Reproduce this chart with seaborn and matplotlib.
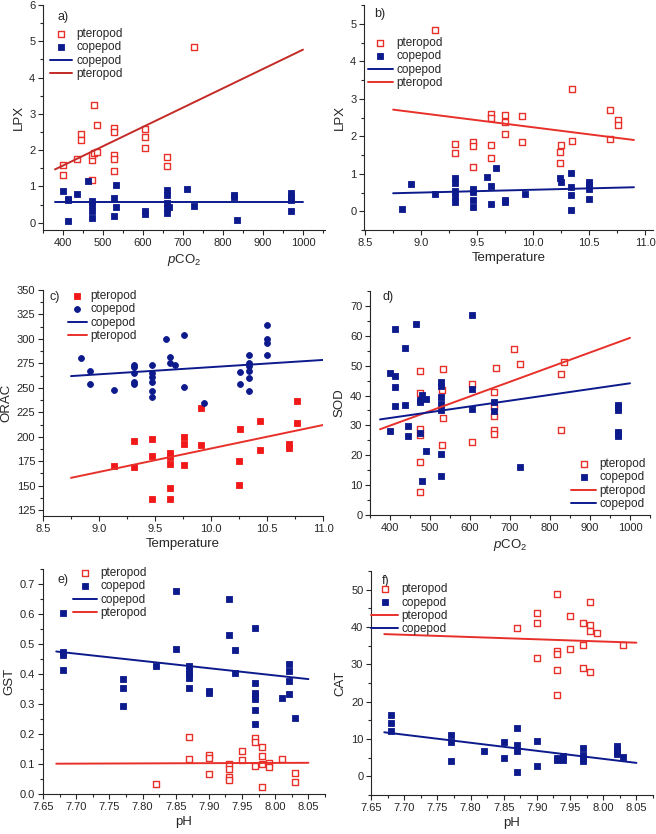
import matplotlib
matplotlib.use("Agg")
import matplotlib.pyplot as plt
from matplotlib.ticker import AutoMinorLocator, MultipleLocator, FormatStrFormatter
import seaborn as sns
import pandas as pd

RED = "#e8302a"
NAVY = "#0d1a8c"

# ---- a) LPX vs pCO2 ----
a_ptero_x = [400, 400, 435, 446, 446, 473, 473, 473, 477, 477, 486, 486, 527, 527, 527, 527, 527,
             606, 606, 606, 660, 660, 727]
a_ptero_y = [1.59, 1.31, 1.76, 2.44, 2.29, 1.19, 1.73, 1.86, 3.25, 1.91, 1.95, 2.70, 2.60, 2.50, 1.86,
             1.76, 1.42, 2.57, 2.37, 2.05, 1.80, 1.55, 4.83]
a_cope_x = [400, 412, 412, 412, 435, 462, 473, 473, 473, 473, 527, 527, 532, 532, 606, 606, 660, 660,
            660, 660, 660, 665, 711, 727, 827, 827, 835, 971, 971, 971, 971]
a_cope_y = [0.88, 0.66, 0.62, 0.05, 0.78, 1.15, 0.59, 0.49, 0.31, 0.12, 0.67, 0.19, 1.04, 0.43, 0.31,
            0.25, 0.90, 0.76, 0.55, 0.42, 0.26, 0.44, 0.92, 0.45, 0.76, 0.70, 0.07, 0.81, 0.72, 0.62, 0.33]
a_fit_x = [380, 1000]
a_fit_ptero = [1.47, 4.77]
a_fit_cope = [0.56, 0.56]

# ---- b) LPX vs Temperature ----
b_ptero_x = [9.12, 9.30, 9.30, 9.46, 9.46, 9.46, 9.62, 9.62, 9.62, 9.62, 9.75, 9.75, 9.75, 9.90, 9.90,
             10.25, 10.24, 10.24, 10.35, 10.35, 10.69, 10.69, 10.76, 10.76]
b_ptero_y = [4.84, 1.79, 1.55, 1.85, 1.75, 1.19, 2.59, 2.50, 1.76, 1.41, 2.56, 2.37, 2.05, 2.54, 1.85,
             1.76, 1.57, 1.30, 3.25, 1.88, 2.69, 1.94, 2.43, 2.29]
b_cope_x = [8.83, 8.91, 9.12, 9.30, 9.30, 9.30, 9.30, 9.30, 9.46, 9.46, 9.46, 9.46, 9.59, 9.62, 9.62,
            9.67, 9.75, 9.75, 9.93, 10.24, 10.25, 10.34, 10.34, 10.34, 10.34, 10.50, 10.50, 10.50, 10.50]
b_cope_y = [0.06, 0.73, 0.45, 0.89, 0.75, 0.55, 0.39, 0.25, 0.59, 0.51, 0.30, 0.12, 0.91, 0.68, 0.19,
            1.15, 0.31, 0.25, 0.45, 0.88, 0.78, 1.02, 0.64, 0.43, 0.04, 0.78, 0.69, 0.60, 0.33]
b_fit_x = [8.75, 10.9]
b_fit_ptero = [2.71, 1.90]
b_fit_cope = [0.48, 0.64]

# ---- c) ORAC vs Temperature ----
c_ptero_x = [9.13, 9.31, 9.31, 9.47, 9.47, 9.47, 9.63, 9.63, 9.63, 9.63, 9.63, 9.76, 9.76, 9.76, 9.91,
             9.91, 10.26, 10.25, 10.25, 10.44, 10.44, 10.70, 10.70, 10.77, 10.77]
c_ptero_y = [170, 196, 169.5, 198, 180, 136, 183, 179, 172, 148, 136, 200, 193, 171.5, 229, 192,
             208, 175, 151, 216, 186.5, 193, 189, 237, 214]
c_cope_x = [8.84, 8.92, 8.92, 9.13, 9.31, 9.31, 9.31, 9.31, 9.31, 9.47, 9.47, 9.47, 9.47, 9.47, 9.47,
            9.60, 9.63, 9.63, 9.68, 9.76, 9.76, 9.94, 10.26, 10.26, 10.34, 10.34, 10.34, 10.34, 10.34,
            10.34, 10.50, 10.50, 10.50, 10.50]
c_cope_y = [280, 267, 253.5, 248, 273, 271, 265, 256, 254, 273.5, 265, 261, 256, 247, 241,
            300, 281.5, 275, 273, 304, 251, 235, 266, 254, 284, 275, 272, 267.5, 260, 247,
            314.5, 300, 295.5, 283.5]
c_fit_x = [8.75, 11.0]
c_fit_ptero = [158, 212]
c_fit_cope = [262, 278.5]

# ---- d) SOD vs pCO2 ----
d_ptero_x = [474, 474, 474, 474, 474, 474, 529, 529, 533, 533, 605, 605, 661, 661, 661, 661, 661, 665,
             711, 726, 828, 828, 836]
d_ptero_y = [48.3, 40.8, 28.9, 26.9, 17.8, 7.7, 41.7, 23.6, 48.9, 32.4, 43.8, 24.3, 41.1, 36.0, 33.2,
             28.3, 27.2, 49.3, 55.6, 50.7, 47.1, 28.3, 51.3]
d_cope_x = [400, 400, 412, 412, 412, 412, 437, 437, 446, 446, 464, 474, 474, 474, 479, 479, 489, 489,
            527, 527, 527, 527, 527, 527, 527, 605, 605, 605, 661, 661, 726, 971, 971, 971, 971, 971, 971]
d_cope_y = [28.0, 47.4, 62.2, 46.6, 43.0, 36.4, 56.0, 36.9, 29.7, 26.5, 63.9, 38.6, 37.7, 27.4, 40.2,
            11.3, 38.7, 21.3, 44.4, 43.3, 39.4, 37.1, 35.2, 20.4, 13.2, 66.9, 42.1, 35.4, 37.8, 34.7,
            16.0, 36.9, 36.1, 35.1, 27.8, 27.2, 26.3]
d_fit_x = [375, 1000]
d_fit_ptero = [28.7, 59.3]
d_fit_cope = [32.0, 44.1]

# ---- e) GST vs pH ----
e_ptero_x = [7.82, 7.87, 7.87, 7.90, 7.90, 7.90, 7.93, 7.93, 7.93, 7.93, 7.95, 7.95, 7.97, 7.97, 7.97,
             7.98, 7.98, 7.98, 7.98, 7.99, 7.99, 8.01, 8.03, 8.03]
e_ptero_y = [0.033, 0.191, 0.118, 0.130, 0.119, 0.068, 0.099, 0.085, 0.057, 0.047, 0.145, 0.113, 0.186,
             0.174, 0.093, 0.157, 0.126, 0.101, 0.023, 0.104, 0.090, 0.118, 0.070, 0.041]
e_cope_x = [7.68, 7.68, 7.68, 7.68, 7.77, 7.77, 7.77, 7.82, 7.85, 7.85, 7.87, 7.87, 7.87, 7.87, 7.87,
            7.90, 7.90, 7.93, 7.93, 7.94, 7.94, 7.97, 7.97, 7.97, 7.97, 7.97, 7.97, 7.97, 8.01, 8.02,
            8.02, 8.02, 8.02, 8.03]
e_cope_y = [0.605, 0.472, 0.463, 0.412, 0.383, 0.352, 0.294, 0.426, 0.676, 0.485, 0.427, 0.410, 0.399,
            0.386, 0.353, 0.343, 0.336, 0.651, 0.531, 0.479, 0.402, 0.552, 0.370, 0.338, 0.327, 0.316,
            0.280, 0.233, 0.321, 0.435, 0.410, 0.377, 0.333, 0.252]
e_fit_x = [7.67, 8.05]
e_fit_ptero = [0.101, 0.104]
e_fit_cope = [0.475, 0.383]

# ---- f) CAT vs pH ----
f_ptero_x = [7.87, 7.90, 7.90, 7.90, 7.93, 7.93, 7.93, 7.93, 7.93, 7.95, 7.95, 7.97, 7.97, 7.97, 7.98,
             7.98, 7.98, 7.98, 7.99, 8.03]
f_ptero_y = [39.8, 43.8, 41.2, 31.6, 48.9, 33.5, 32.9, 28.4, 21.7, 42.9, 34.2, 41.1, 35.1, 29.1, 46.8,
             40.5, 38.8, 27.9, 38.3, 35.1]
f_cope_x = [7.68, 7.68, 7.68, 7.77, 7.77, 7.77, 7.82, 7.85, 7.85, 7.87, 7.87, 7.87, 7.87, 7.90, 7.90,
            7.93, 7.93, 7.94, 7.94, 7.97, 7.97, 7.97, 7.97, 8.02, 8.02, 8.02, 8.02, 8.03]
f_cope_y = [16.5, 14.4, 12.1, 11.1, 9.3, 4.1, 6.7, 9.1, 4.9, 12.9, 8.5, 6.9, 1.1, 9.4, 2.7, 5.0, 4.4,
            5.5, 4.3, 7.5, 5.8, 4.9, 4.0, 8.2, 7.3, 6.4, 6.0, 5.1]
f_fit_x = [7.67, 8.05]
f_fit_ptero = [38.1, 35.8]
f_fit_cope = [11.8, 3.6]

sns.set_style("ticks")
plt.rcParams["font.family"] = ["Liberation Sans", "DejaVu Sans"]
plt.rcParams["mathtext.fontset"] = "custom"
plt.rcParams["mathtext.rm"] = "Liberation Sans"
plt.rcParams["mathtext.it"] = "Liberation Sans:italic"
plt.rcParams["xtick.direction"] = "out"
plt.rcParams["ytick.direction"] = "out"

W, H = 656, 834
fig = plt.figure(figsize=(W / 100, H / 100), dpi=100)


def make_ax(l, t, r, b):
    return fig.add_axes([l / W, 1 - b / H, (r - l) / W, (b - t) / H])


def scatter(ax, x, y, color, label, filled=True, marker="s", size=14):
    df = pd.DataFrame({"x": x, "y": y})
    if filled:
        sns.scatterplot(data=df, x="x", y="y", ax=ax, marker=marker, s=size, color=color,
                        edgecolor=color, linewidth=0.6, label=label)
    else:
        sns.scatterplot(data=df, x="x", y="y", ax=ax, marker=marker, s=size, facecolor="white",
                        edgecolor=color, linewidth=1.0, label=label)


def fit(ax, x, y, color, label):
    df = pd.DataFrame({"x": x, "y": y})
    sns.lineplot(data=df, x="x", y="y", ax=ax, color=color, linewidth=1.4, label=label)


def style(ax, xlim, ylim, xmaj, ymaj, xlabel, ylabel, xfmt=None, yfmt=None):
    ax.set_xlim(*xlim)
    ax.set_ylim(*ylim)
    ax.xaxis.set_major_locator(MultipleLocator(xmaj))
    ax.yaxis.set_major_locator(MultipleLocator(ymaj))
    ax.xaxis.set_minor_locator(AutoMinorLocator(2))
    ax.yaxis.set_minor_locator(AutoMinorLocator(2))
    if xfmt:
        ax.xaxis.set_major_formatter(xfmt)
    if yfmt:
        ax.yaxis.set_major_formatter(yfmt)
    ax.tick_params(which="major", length=3.5, width=0.8, labelsize=8, pad=2)
    ax.tick_params(which="minor", length=2, width=0.8)
    ax.set_xlabel(xlabel, fontsize=9.5, labelpad=3)
    ax.set_ylabel(ylabel, fontsize=9.5, labelpad=3)
    for s in ("top", "right"):
        ax.spines[s].set_visible(False)
    for s in ("left", "bottom"):
        ax.spines[s].set_linewidth(0.8)


def legend(ax, loc, anchor, handlelength):
    ax.legend(loc=loc, bbox_to_anchor=anchor, frameon=False, fontsize=8.5, handlelength=handlelength,
              handletextpad=0.3, labelspacing=0.12, borderaxespad=0, borderpad=0)


def tag(ax, s, x, y):
    ax.text(x, y, s, transform=ax.transAxes, fontsize=9, va="top", ha="left")


pco2 = r"$p$CO$_2$"

# a)
ax = make_ax(43, 5, 325, 230)
scatter(ax, a_ptero_x, a_ptero_y, RED, "pteropod", filled=False)
scatter(ax, a_cope_x, a_cope_y, NAVY, "copepod")
fit(ax, a_fit_x, a_fit_cope, NAVY, "copepod")
fit(ax, a_fit_x, a_fit_ptero, "#c42a26", "pteropod")
style(ax, (350, 1055), (-0.2, 6), 100, 1, pco2, "LPX")
tag(ax, "a)", 0.05, 0.975)
legend(ax, "upper left", (0.025, 0.898), 1.9)

# b)
ax = make_ax(364, 5, 653, 230)
scatter(ax, b_ptero_x, b_ptero_y, RED, "pteropod", filled=False)
scatter(ax, b_cope_x, b_cope_y, NAVY, "copepod")
fit(ax, b_fit_x, b_fit_cope, NAVY, "copepod")
fit(ax, b_fit_x, b_fit_ptero, RED, "pteropod")
style(ax, (8.49, 11.07), (-0.5, 5.5), 0.5, 1, "Temperature", "LPX")
tag(ax, "b)", 0.035, 0.985)
legend(ax, "upper left", (0.014, 0.858), 2.1)

# c)
ax = make_ax(43, 290, 323, 516)
scatter(ax, c_ptero_x, c_ptero_y, "#f01818", "pteropod")
scatter(ax, c_cope_x, c_cope_y, NAVY, "copepod", marker="o", size=18)
fit(ax, c_fit_x, c_fit_cope, NAVY, "copepod")
fit(ax, c_fit_x, c_fit_ptero, RED, "pteropod")
style(ax, (8.5, 11.0), (119, 350), 0.5, 25, "Temperature", "ORAC")
tag(ax, "c)", 0.025, 0.995)
legend(ax, "upper left", (0.089, 1.0), 1.6)

# d)
ax = make_ax(370, 291, 650, 515)
scatter(ax, d_ptero_x, d_ptero_y, RED, "pteropod", filled=False)
scatter(ax, d_cope_x, d_cope_y, NAVY, "copepod")
fit(ax, d_fit_x, d_fit_ptero, RED, "pteropod")
fit(ax, d_fit_x, d_fit_cope, NAVY, "copepod")
style(ax, (350, 1050), (0, 75), 100, 10, pco2, "SOD")
tag(ax, "d)", 0.043, 1.0)
legend(ax, "lower right", (0.986, 0.022), 2.1)

# e)
ax = make_ax(43, 569, 325, 794)
scatter(ax, e_ptero_x, e_ptero_y, RED, "pteropod", filled=False)
scatter(ax, e_cope_x, e_cope_y, NAVY, "copepod")
fit(ax, e_fit_x, e_fit_cope, NAVY, "copepod")
fit(ax, e_fit_x, e_fit_ptero, RED, "pteropod")
style(ax, (7.65, 8.075), (0, 0.75), 0.05, 0.1, "pH", "GST",
      xfmt=FormatStrFormatter("%.2f"), yfmt=FormatStrFormatter("%.1f"))
tag(ax, "e)", 0.05, 0.978)
legend(ax, "upper left", (0.106, 1.009), 2.0)

# f)
ax = make_ax(371, 571, 653, 795)
scatter(ax, f_ptero_x, f_ptero_y, RED, "pteropod", filled=False)
scatter(ax, f_cope_x, f_cope_y, NAVY, "copepod")
fit(ax, f_fit_x, f_fit_ptero, RED, "pteropod")
fit(ax, f_fit_x, f_fit_cope, NAVY, "copepod")
style(ax, (7.65, 8.075), (-5, 55), 0.05, 10, "pH", "CAT", xfmt=FormatStrFormatter("%.2f"))
tag(ax, "f)", 0.039, 0.982)
legend(ax, "upper left", (0.0, 0.946), 2.3)

fig.savefig("out.png", dpi=100)
